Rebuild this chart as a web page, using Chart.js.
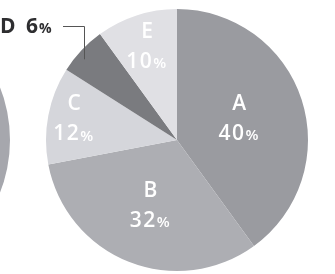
<!DOCTYPE html>
<html>
<head>
<meta charset="utf-8">
<script src="https://cdn.jsdelivr.net/npm/chart.js@4/dist/chart.umd.min.js"></script>
<style>
  html, body { margin: 0; padding: 0; background: #fff; }
  body { width: 335px; height: 274px; position: relative; overflow: hidden; }
  #sideWrap { position: absolute; left: -280px; top: -5px; width: 290px; height: 290px; }
  #mainWrap { position: absolute; left: 0; top: 0; width: 335px; height: 274px; }
</style>
</head>
<body>
<div id="sideWrap"><canvas id="sideChart"></canvas></div>
<div id="mainWrap"><canvas id="pieChart"></canvas></div>
<script>
const categories = ['A', 'B', 'C', 'D', 'E'];
const shares = [40, 32, 12, 6, 10];
const sliceColors = ['#9a9ba0', '#adaeb3', '#d5d6db', '#7a7b7f', '#e0e0e4'];
// neighbouring pie, only its right edge shows
const sideShares = [100];

// how far out each label sits, as a share of the radius
const labelRadius = { A: 0.5, B: 0.55, C: 0.8, E: 0.74 };

function drawPercent(ctx, value, x, y, big, small, spacing) {
    // number with a smaller % sign, centred on x
    ctx.letterSpacing = spacing + 'px';
    ctx.font = '600 ' + big + 'px "Open Sans"';
    const nw = ctx.measureText(String(value)).width;
    ctx.font = '600 ' + small + 'px "Open Sans"';
    const pw = ctx.measureText('%').width;
    const left = x - (nw + pw) / 2;
    ctx.textAlign = 'left';
    ctx.font = '600 ' + big + 'px "Open Sans"';
    ctx.fillText(String(value), left, y);
    ctx.font = '600 ' + small + 'px "Open Sans"';
    ctx.fillText('%', left + nw, y + 2);
    ctx.letterSpacing = '0px';
}

const sliceLabels = {
    id: 'sliceLabels',
    afterDatasetsDraw(chart) {
        const ctx = chart.ctx;
        const arcs = chart.getDatasetMeta(0).data;
        ctx.save();
        ctx.textBaseline = 'middle';
        arcs.forEach((arc, i) => {
            const name = categories[i];
            const mid = (arc.startAngle + arc.endAngle) / 2;
            if (name === 'D') {
                // outside label with leader line
                const px = arc.x + Math.cos(mid) * arc.outerRadius * 0.97;
                const py = arc.y + Math.sin(mid) * arc.outerRadius * 0.9;
                const lineY = 26;
                ctx.strokeStyle = '#555';
                ctx.lineWidth = 1;
                ctx.beginPath();
                ctx.moveTo(63, lineY + 0.5);
                ctx.lineTo(Math.round(px) + 0.5, lineY + 0.5);
                ctx.lineTo(Math.round(px) + 0.5, py);
                ctx.stroke();
                ctx.fillStyle = '#2e2e30';
                ctx.textAlign = 'left';
                ctx.font = 'bold 21px "Open Sans"';
                ctx.fillText('D', 0, 27);
                ctx.font = 'bold 21px "Open Sans"';
                ctx.fillText(shares[i], 26, 27);
                const w = ctx.measureText(String(shares[i])).width;
                ctx.font = 'bold 14px "Open Sans"';
                ctx.fillText('%', 26 + w + 1, 29);
                return;
            }
            const r = arc.outerRadius * labelRadius[name];
            const x = arc.x + Math.cos(mid) * r;
            const y = arc.y + Math.sin(mid) * r;
            ctx.fillStyle = '#ffffff';
            ctx.textAlign = 'center';
            ctx.font = '600 21px "Open Sans"';
            ctx.fillText(name, x, y - 16);
            drawPercent(ctx, shares[i], x, y + 14, 21, 15, 1.5);
        });
        ctx.restore();
    }
};

new Chart(document.getElementById('sideChart'), {
    type: 'pie',
    data: {
        labels: ['side'],
        datasets: [{ data: sideShares, backgroundColor: ['#a6a7ad'], borderWidth: 0 }]
    },
    options: {
        responsive: true,
        maintainAspectRatio: false,
        animation: false,
        events: [],
        plugins: { legend: { display: false }, tooltip: { enabled: false } }
    }
});

new Chart(document.getElementById('pieChart'), {
    type: 'pie',
    data: {
        labels: categories,
        datasets: [{
            data: shares,
            backgroundColor: sliceColors,
            borderWidth: 0
        }]
    },
    options: {
        responsive: true,
        maintainAspectRatio: false,
        animation: false,
        events: [],
        layout: { padding: { left: 46, top: 9, right: 27, bottom: 3 } },
        plugins: { legend: { display: false }, tooltip: { enabled: false } }
    },
    plugins: [sliceLabels]
});
</script>
</body>
</html>
